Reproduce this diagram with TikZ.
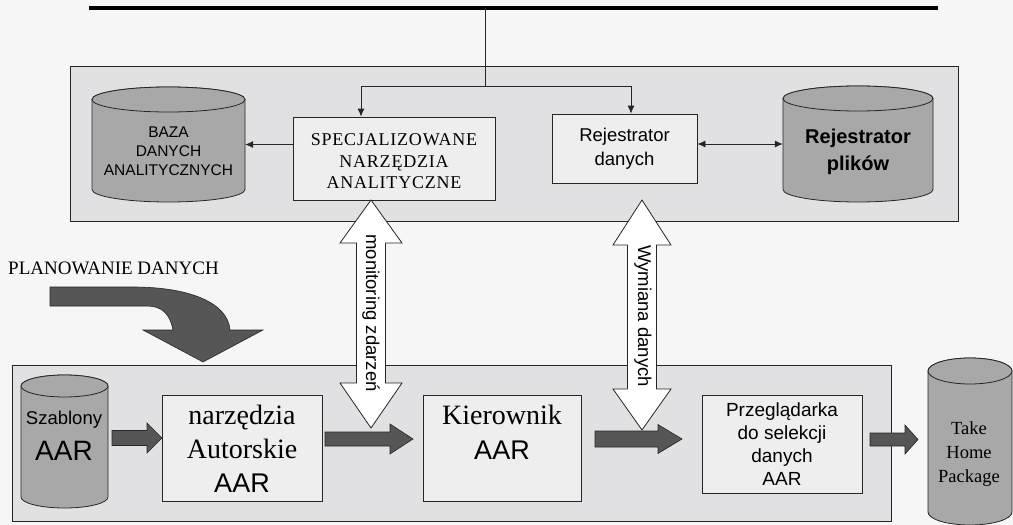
\documentclass[tikz,border=0pt]{standalone}
\usepackage{fontspec}
\setmainfont{Liberation Serif}
\newfontfamily\arialf{Liberation Sans}
\newfontfamily\widserif[LetterSpace=4.4]{Liberation Serif}
\usetikzlibrary{arrows.meta,calc}
\definecolor{bgc}{HTML}{F6F6F6}
\definecolor{panelc}{HTML}{E1E1E3}
\definecolor{boxc}{HTML}{EEEEEE}
\definecolor{cylc}{HTML}{A8A8A8}
\definecolor{blkc}{HTML}{565656}
\tikzset{
  panel/.style={draw=black!85, line width=0.8pt, fill=panelc},
  boxs/.style={draw=black!85, line width=0.8pt, fill=boxc, inner sep=0pt, align=center},
  cyl/.style={draw=black!85, line width=0.8pt, fill=cylc},
  blk/.style={draw=black!85, line width=0.6pt, fill=blkc},
  dbl/.style={draw=black!85, line width=0.8pt, fill=white},
  thin/.style={draw=black!85, line width=0.8pt},
  arr/.style={thin, -{Latex[length=8pt,width=7pt]}},
  darr/.style={thin, {Latex[length=8pt,width=7pt]}-{Latex[length=8pt,width=7pt]}},
  lbl/.style={inner sep=0pt, align=center}
}
% cylinder: x1 x2 ytop ybot ry (image coordinates, y downwards)
\newcommand\cylpath[5]{%
  \pgfmathsetmacro\cxr{(#2-#1)/2}%
  \filldraw[cyl] (#1,{-(#3)-(#5)}) -- (#1,{-(#4)+(#5)})
     arc[start angle=180,end angle=360,x radius=\cxr,y radius=#5]
     -- (#2,{-(#3)-(#5)})
     arc[start angle=0,end angle=180,x radius=\cxr,y radius=#5] -- cycle;
  \draw[cyl] ({(#1+#2)/2},{-(#3)-(#5)}) ellipse[x radius=\cxr,y radius=#5];
}
% horizontal block arrow: x1 x2 yc shafthalf headhalf headlen
\newcommand\harrow[6]{%
  \filldraw[blk] (#1,{-(#3)+(#4)}) -- ({#2-#6},{-(#3)+(#4)}) -- ({#2-#6},{-(#3)+(#5)})
    -- (#2,{-(#3)}) -- ({#2-#6},{-(#3)-(#5)}) -- ({#2-#6},{-(#3)-(#4)}) -- (#1,{-(#3)-(#4)}) -- cycle;
}
% vertical double block arrow: cx ytip1 ybase1 ybase2 ytip2 shafthalf headhalf
\newcommand\vdarrow[7]{%
  \filldraw[dbl] (#1,{-(#2)}) -- ({#1+#7},{-(#3)}) -- ({#1+#6},{-(#3)}) -- ({#1+#6},{-(#4)})
    -- ({#1+#7},{-(#4)}) -- (#1,{-(#5)}) -- ({#1-#7},{-(#4)}) -- ({#1-#6},{-(#4)})
    -- ({#1-#6},{-(#3)}) -- ({#1-#7},{-(#3)}) -- cycle;
}
\begin{document}
\begin{tikzpicture}[x=1pt,y=1pt]
\fill[bgc] (0,0) rectangle (1013,-525);
\useasboundingbox (0,0) rectangle (1013,-525);

% ---------- top bus ----------
\coordinate (busL) at (89,-8);
\coordinate (busR) at (938,-8);
\coordinate (busJ) at (485,-8);
\draw[line width=3.5pt] (busL) -- (busR);

% ---------- top panel ----------
\draw[panel] (70,-66) rectangle (958,-221);

\cylpath{92}{245}{87}{202}{12.5}
\node[inner sep=0pt, minimum width=153pt, minimum height=115pt] (baza) at (168.5,-144.5) {};
\node[lbl, font=\arialf\fontsize{15.5}{19}\selectfont] (bazaT) at (168.5,-151) {BAZA\\DANYCH\\ANALITYCZNYCH};

\node[boxs, minimum width=202pt, minimum height=83pt] (spec) at (394,-158.5) {};
\node[lbl, font=\widserif\fontsize{18}{21.5}\selectfont] (specT) at (394,-161.5) {SPECJALIZOWANE\\NARZĘDZIA\\ANALITYCZNE};

\node[boxs, minimum width=145pt, minimum height=69pt, font=\arialf\fontsize{18.5}{24}\selectfont] (rej) at (624.5,-148.5) {Rejestrator\\danych};

\cylpath{783}{933}{86}{202}{12.5}
\node[inner sep=0pt, minimum width=150pt, minimum height=116pt] (pliki) at (858,-144) {};
\node[lbl, font=\arialf\bfseries\fontsize{20}{27}\selectfont] (plikiT) at (858,-151.5) {Rejestrator\\plików};

\coordinate (jV) at (485,-86);
\coordinate (jL) at (361,-86);
\coordinate (jR) at (631,-86);
\draw[thin] (busJ) -- (jV);
\draw[thin] (jL) -- (jR);
\draw[arr] (jL) -- (jL |- spec.north);
\draw[arr] (jR) -- (jR |- rej.north);
\draw[arr] (spec.west |- baza.east) -- (baza.east);
\draw[darr] (rej.east |- pliki.west) -- (pliki.west);

% ---------- planning ----------
\node[lbl, anchor=west, font=\fontsize{19}{22}\selectfont] (plan) at (8,-268) {PLANOWANIE DANYCH};
\filldraw[blk] (50,-287) -- (133,-287) .. controls (190,-287) and (228,-303) .. (230,-330)
  -- (263,-330) -- (203,-362) -- (143,-330) -- (173,-330)
  .. controls (170,-314) and (162,-306) .. (147,-306) -- (50,-306) -- cycle;

% ---------- bottom panel ----------
\draw[panel] (12,-365) rectangle (891,-521);

\cylpath{21}{108}{375}{508}{11}
\node[inner sep=0pt, minimum width=87pt, minimum height=133pt] (szab) at (64.5,-441.5) {};
\node[lbl, font=\arialf\fontsize{18.5}{22}\selectfont] (szabT) at (64,-420) {Szablony};
\node[lbl, font=\arialf\fontsize{28}{30}\selectfont] (szabA) at (64,-451) {AAR};

\node[boxs, minimum width=160pt, minimum height=106pt] (narz) at (242,-448) {};
\node[lbl, font=\fontsize{28}{34}\selectfont] (narzT) at (242,-432) {narzędzia\\Autorskie};
\node[lbl, font=\arialf\fontsize{27}{30}\selectfont] (narzA) at (242,-483) {AAR};

\node[boxs, minimum width=158pt, minimum height=106pt] (kier) at (502,-448) {};
\node[lbl, font=\fontsize{28}{30}\selectfont] (kierT) at (502,-415) {Kierownik};
\node[lbl, font=\arialf\fontsize{27}{30}\selectfont] (kierA) at (502,-450) {AAR};

\node[boxs, minimum width=160pt, minimum height=98pt, font=\arialf\fontsize{19}{23}\selectfont] (przeg) at (782,-444) {Przeglądarka\\do selekcji\\danych\\AAR};

\cylpath{928}{1012}{358}{525}{13}
\node[inner sep=0pt, minimum width=84pt, minimum height=167pt] (thp) at (970,-441.5) {};
\node[lbl, font=\fontsize{18.5}{24}\selectfont] (thpT) at (969,-454) {Take\\Home\\Package};

% block arrows between stages
\harrow{112}{162}{438}{7.5}{15}{15}
\harrow{325}{413}{439}{7}{15}{23}
\harrow{595}{682}{439}{8}{14.5}{24}
\harrow{870}{918}{439.5}{6.5}{14.5}{13}

% vertical double arrows
\vdarrow{371}{200}{243}{383}{428}{14.5}{31}
\vdarrow{642}{200}{245}{389}{430}{14.5}{29}
\node[lbl, rotate=-90, font=\arialf\fontsize{18.5}{22}\selectfont] (monT) at (371,-313) {monitoring zdarzeń};
\node[lbl, rotate=-90, font=\arialf\fontsize{18.5}{22}\selectfont] (wymT) at (643,-316) {Wymiana danych};
\end{tikzpicture}
\end{document}
